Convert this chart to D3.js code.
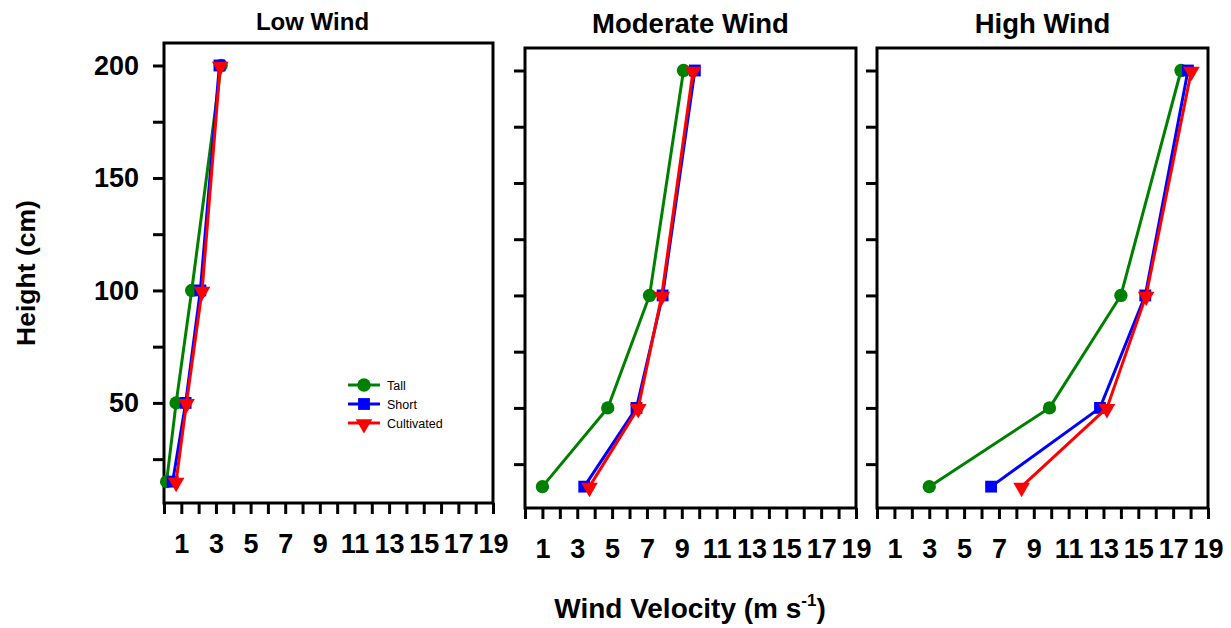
<!DOCTYPE html>
<html>
<head>
<meta charset="utf-8">
<script src="https://cdn.jsdelivr.net/npm/d3@7"></script>
<style>
  body { margin: 0; background: #fff; }
  text { font-family: "Liberation Sans", Arial, sans-serif; }
</style>
</head>
<body>
<script>
const width = 1231, height = 628;

// data
const heights = [15, 50, 100, 200];
const panelTitles = ["Low Wind", "Moderate Wind", "High Wind"];
const seriesNames = ["Tall", "Short", "Cultivated"];

const lowTall = [0.15, 0.7, 1.6, 3.3];
const lowShort = [0.5, 1.25, 2.1, 3.2];
const lowCult = [0.7, 1.3, 2.2, 3.25];

const modTall = [1.0, 4.75, 7.15, 9.1];
const modShort = [3.4, 6.4, 7.9, 9.75];
const modCult = [3.7, 6.5, 7.85, 9.65];

const highTall = [3.0, 9.9, 14.0, 17.45];
const highShort = [6.55, 12.8, 15.4, 17.85];
const highCult = [8.3, 13.2, 15.45, 18.05];

const xTicks = d3.range(0, 20);
const yTicks = [25, 50, 75, 100, 125, 150, 175, 200];
const yLabels = [50, 100, 150, 200];

const panelData = [
  [lowTall, lowShort, lowCult],
  [modTall, modShort, modCult],
  [highTall, highShort, highCult]
];

const colors = ["#008000", "#0000ff", "#ff0000"];
const symbols = [d3.symbolCircle, d3.symbolSquare, d3.symbolTriangle];
const symSize = [140, 140, 120];

// panel boxes
const boxes = [
  {x0: 164, x1: 493, y0: 43, y1: 503},
  {x0: 525, x1: 856, y0: 48, y1: 508},
  {x0: 877, x1: 1208, y0: 48, y1: 508}
];

const svg = d3.select("body").append("svg")
    .attr("width", width)
    .attr("height", height);

function marker(g, i, cx, cy) {
  const s = g.append("path")
      .attr("d", d3.symbol().type(symbols[i]).size(symSize[i])())
      .attr("fill", colors[i]);
  // triangle points down
  if (i == 2) s.attr("transform", "translate(" + cx + "," + (cy + 1) + ") rotate(180)");
  else s.attr("transform", "translate(" + cx + "," + cy + ")");
}

boxes.forEach((b, p) => {
  const x = d3.scaleLinear().domain([0, 19]).range([b.x0, b.x1]);
  const y = d3.scaleLinear().domain([5.5, 210]).range([b.y1, b.y0]);
  const g = svg.append("g");

  // x axis
  const xa = g.append("g")
      .attr("transform", "translate(0," + b.y1 + ")")
      .call(d3.axisBottom(x).tickValues(xTicks).tickSize(11).tickSizeOuter(0)
        .tickFormat(d => d % 2 == 1 ? d : ""));
  xa.select(".domain").remove();
  xa.selectAll("line").attr("stroke-width", 3);
  xa.selectAll("text")
      .attr("dy", null)
      .attr("y", 50)
      .attr("font-size", 27)
      .attr("font-weight", "bold")
      .attr("font-family", "Liberation Sans, Arial, sans-serif")
      .attr("fill", "#000");

  // y axis
  const ya = g.append("g")
      .attr("transform", "translate(" + b.x0 + ",0)")
      .call(d3.axisLeft(y).tickValues(yTicks).tickSize(11).tickSizeOuter(0)
        .tickFormat(d => (p == 0 && yLabels.includes(d)) ? d : ""));
  ya.select(".domain").remove();
  ya.selectAll("line").attr("stroke-width", 3);
  ya.selectAll("text")
      .attr("x", -25)
      .attr("font-size", 27)
      .attr("font-weight", "bold")
      .attr("font-family", "Liberation Sans, Arial, sans-serif")
      .attr("fill", "#000");

  // frame
  g.append("rect")
      .attr("x", b.x0).attr("y", b.y0)
      .attr("width", b.x1 - b.x0).attr("height", b.y1 - b.y0)
      .attr("fill", "none")
      .attr("stroke", "#000")
      .attr("stroke-width", 3);

  g.append("text")
      .attr("x", (b.x0 + b.x1) / 2 - (p == 0 ? 16 : 0))
      .attr("y", p == 0 ? 30 : 33)
      .attr("text-anchor", "middle")
      .attr("font-size", p == 0 ? 24 : 27.5)
      .attr("font-weight", "bold")
      .text(panelTitles[p]);

  const line = d3.line()
      .x(d => x(d[0]))
      .y(d => y(d[1]));

  panelData[p].forEach((vals, i) => {
    const pts = vals.map((v, k) => [v, heights[k]]);
    g.append("path")
        .attr("d", line(pts))
        .attr("fill", "none")
        .attr("stroke", colors[i])
        .attr("stroke-width", 3);
    pts.forEach(d => marker(g, i, x(d[0]), y(d[1])));
  });

  // legend in first panel
  if (p == 0) {
    const lg = g.append("g");
    seriesNames.forEach((name, i) => {
      const ly = 385 + i * 19;
      lg.append("line")
          .attr("x1", 348).attr("x2", 380)
          .attr("y1", ly).attr("y2", ly)
          .attr("stroke", colors[i])
          .attr("stroke-width", 3);
      marker(lg, i, 364, ly);
      lg.append("text")
          .attr("x", 387)
          .attr("y", ly + 4.5)
          .attr("font-size", 12.5)
          .text(name);
    });
  }
});

// axis titles
svg.append("text")
    .attr("transform", "translate(35,273) rotate(-90)")
    .attr("text-anchor", "middle")
    .attr("font-size", 26.5)
    .attr("font-weight", "bold")
    .text("Height (cm)");

const xt = svg.append("text")
    .attr("x", 690)
    .attr("y", 618)
    .attr("text-anchor", "middle")
    .attr("font-size", 28)
    .attr("font-weight", "bold");
xt.append("tspan").text("Wind Velocity (m s");
xt.append("tspan").attr("font-size", 17).attr("dy", -12).text("-1");
xt.append("tspan").attr("dy", 12).text(")");
</script>
</body>
</html>
